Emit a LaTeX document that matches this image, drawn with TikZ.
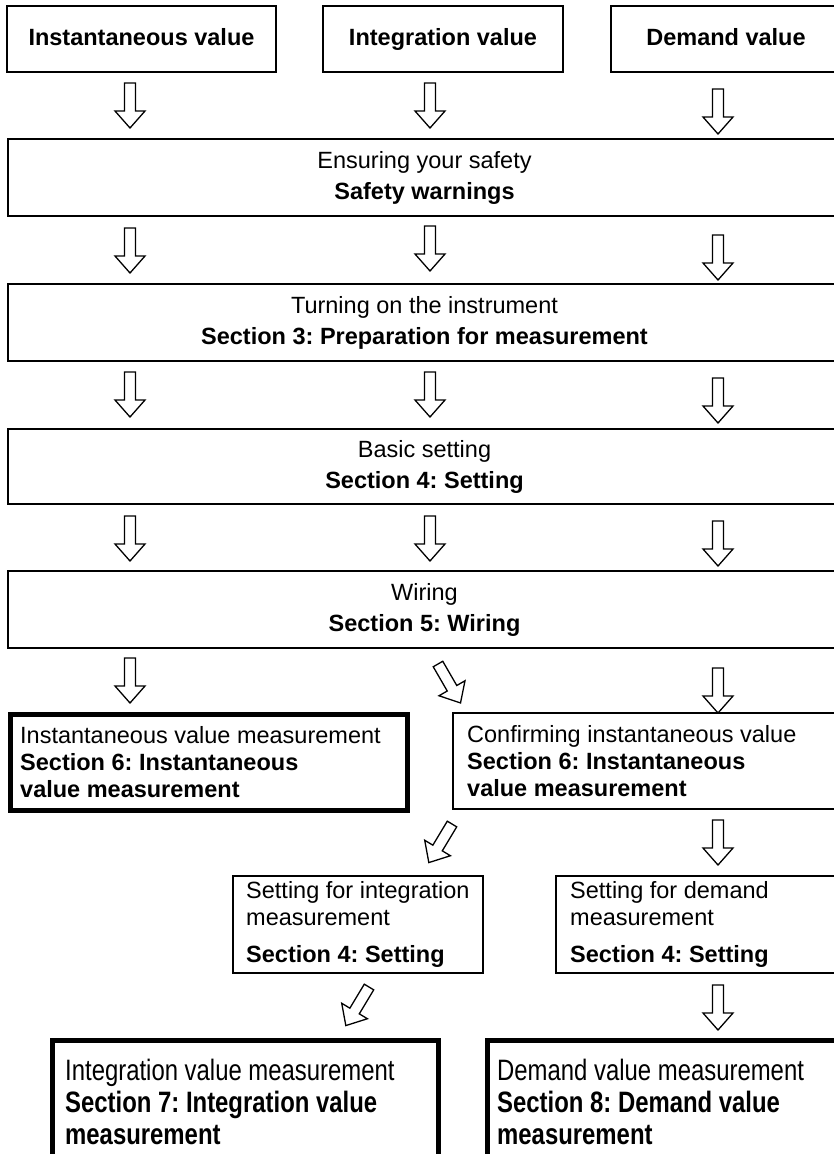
\documentclass[tikz,border=0pt]{standalone}
\usepackage{fontspec}
\setmainfont{Liberation Sans}
\newfontfamily\narrowfont[FakeStretch=0.81]{Liberation Sans}
\frenchspacing
\usetikzlibrary{positioning}
\tikzset{
    topbox/.style={draw,line width=2pt,anchor=north west,inner sep=0pt,text height=17pt,text depth=5pt,font=\bfseries\fontsize{23.5}{28}\selectfont},
    widebox/.style={draw,line width=2pt,anchor=north west,inner sep=0pt,align=center,minimum width=833pt,font=\fontsize{23.5}{31}\selectfont},
    plainbox/.style={draw,line width=2pt,anchor=north west,inner sep=0pt},
    heavybox/.style={plainbox,line width=5pt},
    boxtext/.style={anchor=west,align=left,inner sep=0pt,font=\fontsize{23.5}{27}\selectfont},
    narrowtext/.style={boxtext,font=\narrowfont\fontsize{29.5}{32}\selectfont},
    hollow/.pic={
        \draw[line width=1.3pt,fill=white,line join=miter]
            (-5.5,0) -- (-5.5,28) -- (-15,28) -- (0,45) -- (15,28) -- (5.5,28) -- (5.5,0) -- cycle;
    }
}
\begin{document}
\begin{tikzpicture}[x=1pt,y=-1pt]
\def\ca{130}
\def\cb{430}
\def\cc{718}
\useasboundingbox (0,0) rectangle (834,1154);
\fill[white] (0,0) rectangle (834,1154);
\clip (0,0) rectangle (834,1154);

\node[topbox,minimum width=269pt,minimum height=66pt] (inst) at (6,5) {Instantaneous value};
\node[topbox,minimum width=240pt,minimum height=66pt] (integ) at (322,5) {Integration value};
\node[topbox,minimum width=230pt,minimum height=66pt] (dem) at (610,5) {Demand value};

\node[widebox,minimum height=77pt] (safety) at (7,138) {Ensuring your safety\\\textbf{Safety warnings}};
\node[widebox,minimum height=77pt] (prep) at (7,283) {Turning on the instrument\\\textbf{Section 3: Preparation for measurement}};
\node[widebox,minimum height=75pt] (basic) at (7,428) {Basic setting\\\textbf{Section 4: Setting}};
\node[widebox,minimum height=77pt] (wiring) at (7,570) {Wiring\\\textbf{Section 5: Wiring}};

\node[heavybox,minimum width=397pt,minimum height=96pt] (instm) at (8,712) {};
\node[boxtext,right=12pt of instm.west] (instm-t) {Instantaneous value measurement\\\textbf{Section 6: Instantaneous}\\\textbf{value measurement}};
\node[plainbox,minimum width=388pt,minimum height=96pt] (confirm) at (452,712) {};
\node[boxtext,right=15pt of confirm.west] (confirm-t) {Confirming instantaneous value\\\textbf{Section 6: Instantaneous}\\\textbf{value measurement}};

\node[plainbox,minimum width=250pt,minimum height=97pt] (setint) at (232,875) {};
\node[boxtext,right=14pt of setint.west] (setint-t) {Setting for integration\\measurement\\[10pt]\textbf{Section 4: Setting}};
\node[plainbox,minimum width=285pt,minimum height=97pt] (setdem) at (555,875) {};
\node[boxtext,right=15pt of setdem.west] (setdem-t) {Setting for demand\\measurement\\[10pt]\textbf{Section 4: Setting}};

\node[heavybox,minimum width=386pt,minimum height=122pt] (intm) at (50,1038) {};
\node[narrowtext,right=15pt of intm.west] (intm-t) {Integration value measurement\\\textbf{Section 7: Integration value}\\\textbf{measurement}};
\node[heavybox,minimum width=355pt,minimum height=122pt] (demm) at (485,1038) {};
\node[narrowtext,right=12pt of demm.west] (demm-t) {Demand value measurement\\\textbf{Section 8: Demand value}\\\textbf{measurement}};

\pic at (\ca,83) {hollow};
\pic at (\cb,83) {hollow};
\pic at (\cc,89) {hollow};
\pic at (\ca,228) {hollow};
\pic at (\cb,226) {hollow};
\pic at (\cc,235) {hollow};
\pic at (\ca,372) {hollow};
\pic at (\cb,372) {hollow};
\pic at (\cc,378) {hollow};
\pic at (\ca,516) {hollow};
\pic at (\cb,516) {hollow};
\pic at (\cc,521) {hollow};
\pic at (\ca,658) {hollow};
\pic[rotate=30] at (438,664) {hollow};
\pic at (\cc,668) {hollow};
\pic[rotate=-31] at (452,824) {hollow};
\pic at (\cc,820) {hollow};
\pic[rotate=-31] at (369,987) {hollow};
\pic at (\cc,985) {hollow};
\end{tikzpicture}
\end{document}
